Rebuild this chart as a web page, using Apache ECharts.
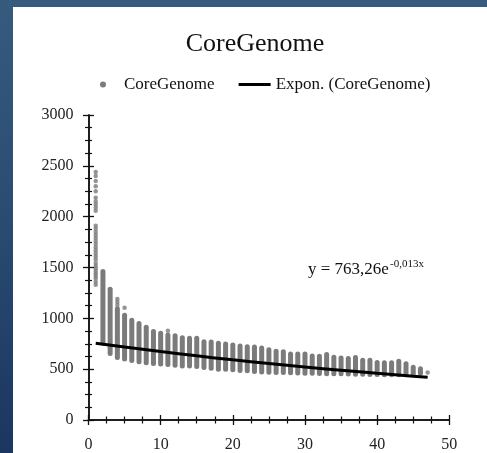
<!DOCTYPE html>
<html>
<head>
<meta charset="utf-8">
<script src="https://cdn.jsdelivr.net/npm/echarts@6/dist/echarts.min.js"></script>
<style>
  html, body { margin: 0; padding: 0; width: 487px; height: 453px; overflow: hidden; }
  body { background: linear-gradient(180deg, #365b7e 0%, #2b4c73 45%, #1b3661 100%); }
  #chart { position: absolute; left: 13px; top: 7px; width: 474px; height: 446px; background: #ffffff; }
</style>
</head>
<body>
<div id="chart"></div>
<script>
// ---- data ----
const columnX   = [2,3,4,5,6,7,8,9,10,11,12,13,14,15,16,17,18,19,20,21,22,23,24,25,26,27,28,29,30,31,32,33,34,35,36,37,38,39,40,41,42,43,44,45,46];
const columnMax = [1460,1285,1095,1030,980,950,912,870,853,837,828,808,805,805,770,766,755,748,738,729,720,718,708,690,676,672,650,650,650,630,628,644,618,610,606,614,588,587,566,564,564,578,554,518,505];
const columnMin = [755,655,615,600,585,572,564,556,550,546,538,532,530,526,516,508,500,498,494,486,484,476,472,470,468,466,464,462,460,460,458,456,455,454,452,450,450,448,448,446,446,445,445,448,460];
const dotX = [1,1,1,1,1,1,1,1,1,1,1,1,1,1,1,1,1,1,1,1,1,1,1,1,1,1,1,1,1,1,1,4,4,4,5,11,47];
const dotY = [2440,2400,2350,2300,2250,2185,2150,2120,2090,2058,1910,1880,1850,1820,1790,1760,1730,1700,1670,1640,1610,1580,1545,1515,1490,1465,1440,1420,1395,1330,1360,1190,1160,1130,1103,877,468];
const trendX = [1,5,10,15,20,25,30,35,40,45,47];
const trendY = [755,718,673,631,592,556,521,489,459,431,421];
const xTicks = { min: 0, max: 50, interval: 10 };
const yTicks = { min: 0, max: 3000, interval: 500 };

const FONT = "'Liberation Serif', 'Times New Roman', serif";
const GRAY = '#7b7b7b';

const columns = columnX.map((x, i) => [x, columnMin[i], columnMax[i]]);
const dots = dotX.map((x, i) => [x, dotY[i]]);
const trend = trendX.map((x, i) => [x, trendY[i]]);

const chart = echarts.init(document.getElementById('chart'), null, { renderer: 'canvas' });

function xAxisDef(inside, labels) {
  return {
    type: 'value', min: xTicks.min, max: xTicks.max, interval: xTicks.interval,
    position: 'bottom', offset: 0,
    axisLine: { show: true, onZero: false, lineStyle: { color: '#111', width: 1.5 } },
    axisTick: { show: true, inside: inside, length: 5, lineStyle: { color: '#111', width: 1.3 } },
    minorTick: { show: true, splitNumber: 4, length: 3.5, lineStyle: { color: '#111', width: 1.2 } },
    splitLine: { show: false }, minorSplitLine: { show: false },
    axisLabel: { show: labels, margin: 17, fontFamily: FONT, fontSize: 16, color: '#222',
      formatter: function (v) { return String(v); } }
  };
}
function yAxisDef(inside, labels) {
  return {
    type: 'value', min: yTicks.min, max: yTicks.max, interval: yTicks.interval,
    position: 'left', offset: 0,
    axisLine: { show: true, onZero: false, lineStyle: { color: '#111', width: 1.5 } },
    axisTick: { show: true, inside: inside, length: 5.5, lineStyle: { color: '#111', width: 1.3 } },
    minorTick: { show: true, splitNumber: 4, length: 3.5, lineStyle: { color: '#111', width: 1.2 } },
    splitLine: { show: false }, minorSplitLine: { show: false },
    axisLabel: { show: labels, margin: 15, fontFamily: FONT, fontSize: 16, color: '#222',
      formatter: function (v) { return String(v); } }
  };
}

const LINE_ICON = 'path://M0,1.5H32V4.5H0Z M0,0L0.02,0L0,0.02Z M32,6L31.98,6L32,5.98Z';

chart.setOption({
  animation: false,
  backgroundColor: '#ffffff',
  title: {
    text: 'CoreGenome', left: 237, top: 19, textAlign: 'center',
    textStyle: { fontFamily: FONT, fontSize: 26, fontWeight: 'normal', color: '#111' }
  },
  legend: {
    left: 82, top: 64, itemWidth: 32, itemHeight: 6, itemGap: 24,
    textStyle: { fontFamily: FONT, fontSize: 17, color: '#111' },
    data: [
      { name: 'CoreGenome', icon: 'circle', itemStyle: { color: GRAY } },
      { name: 'Expon. (CoreGenome)', icon: LINE_ICON, symbolKeepAspect: false, itemStyle: { color: '#000' } }
    ]
  },
  grid: { left: 75.5, right: 37.7, top: 108, bottom: 26.3, containLabel: false },
  xAxis: [xAxisDef(false, true), xAxisDef(true, false)],
  yAxis: [yAxisDef(false, true), yAxisDef(true, false)],
  graphic: [
    { type: 'text', left: 295, top: 254, style: { text: 'y = 763,26e', fontFamily: FONT, fontSize: 17, fill: '#111' } },
    { type: 'text', left: 377, top: 252, style: { text: '-0,013x', fontFamily: FONT, fontSize: 11, fill: '#111' } }
  ],
  series: [
    {
      name: 'CoreGenome', type: 'custom', xAxisIndex: 0, yAxisIndex: 0,
      data: columns, encode: { x: 0, y: [1, 2] },
      itemStyle: { color: GRAY },
      renderItem: function (params, api) {
        const x = api.value(0), lo = api.value(1), hi = api.value(2);
        const pTop = api.coord([x, hi]);
        const pBot = api.coord([x, lo]);
        const w = 5;
        return {
          type: 'rect',
          shape: { x: pTop[0] - w / 2, y: pTop[1] - w / 2, width: w, height: pBot[1] - pTop[1] + w, r: w / 2 },
          style: { fill: GRAY }
        };
      }
    },
    {
      name: 'CoreGenome', type: 'scatter', xAxisIndex: 0, yAxisIndex: 0,
      data: dots, symbol: 'circle', symbolSize: 4.5,
      itemStyle: { color: GRAY }
    },
    {
      name: 'Expon. (CoreGenome)', type: 'line', xAxisIndex: 0, yAxisIndex: 0,
      data: trend, smooth: true, showSymbol: false, symbol: 'none',
      lineStyle: { color: '#000', width: 3 }, itemStyle: { color: '#000' }, z: 5
    }
  ]
});
</script>
</body>
</html>
